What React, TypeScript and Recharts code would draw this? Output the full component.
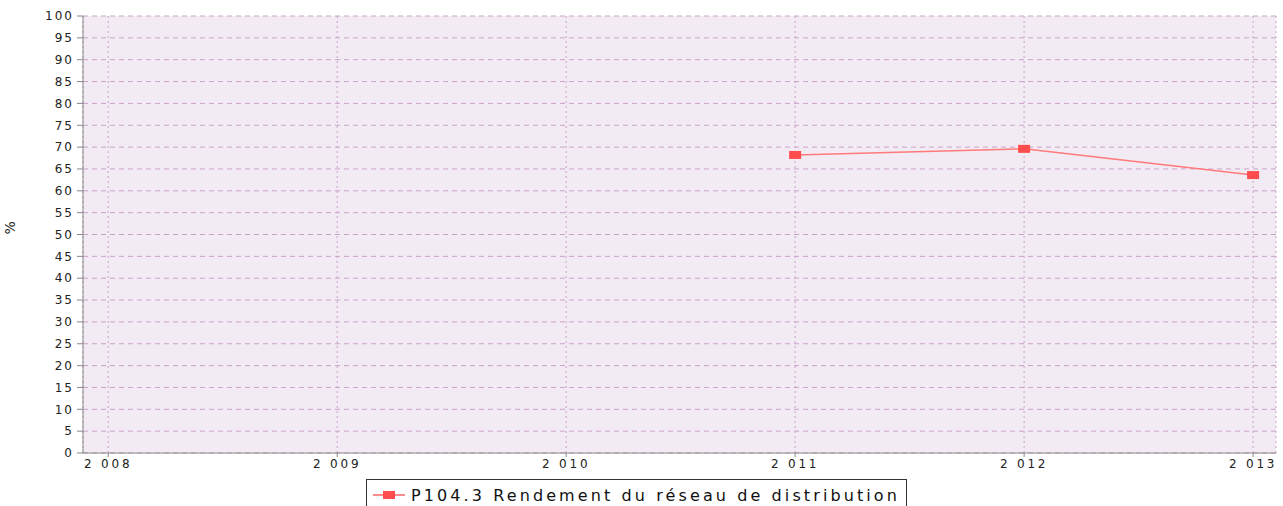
import { LineChart, Line, XAxis, YAxis, CartesianGrid } from "recharts";

const years = [2011, 2012, 2013];
const rendement = [68.2, 69.6, 63.6];
const xTicks = [2008, 2009, 2010, 2011, 2012, 2013];
const yTicks = [0, 5, 10, 15, 20, 25, 30, 35, 40, 45, 50, 55, 60, 65, 70, 75, 80, 85, 90, 95, 100];
const seriesName = "P104.3 Rendement du réseau de distribution";

const data = years.map((year, i) => ({ year, value: rendement[i] }));

const fmtYear = (v: number) => {
  const s = String(v);
  return s.slice(0, 1) + " " + s.slice(1);
};

const tickStyle = {
  fill: "#222",
  fontSize: 12,
  fontFamily: "DejaVu Sans, sans-serif",
  letterSpacing: 2,
};

const SquareDot = (props: any) => {
  const { cx, cy } = props;
  if (cx == null || cy == null) return null;
  return <rect x={cx - 6} y={cy - 4} width={12} height={8} fill="#FF4D4D" />;
};

const LegendBox = () => (
  <div
    style={{
      position: "absolute",
      left: 366,
      top: 479,
      width: 541,
      height: 32,
      border: "1px solid #333",
      background: "#fff",
      display: "flex",
      alignItems: "center",
      paddingLeft: 6,
      fontFamily: "DejaVu Sans, sans-serif",
      fontSize: 16,
      letterSpacing: 3.1,
      color: "#111",
      boxSizing: "border-box",
      whiteSpace: "nowrap",
      overflow: "hidden",
    }}
  >
    <svg width={32} height={12} style={{ marginRight: 6, flex: "none" }}>
      <line x1={0} y1={6} x2={32} y2={6} stroke="#FF6666" strokeWidth={1.5} />
      <rect x={10} y={2} width={12} height={8} fill="#FF4D4D" />
    </svg>
    {seriesName}
  </div>
);

export default function App() {
  return (
    <div style={{ position: "absolute", left: 0, top: 0, width: 1283, height: 506, background: "#fff", overflow: "hidden" }}>
      <LineChart width={1283} height={506} data={data} margin={{ top: 16, right: 7, left: 0, bottom: 27 }}>
        <CartesianGrid
          horizontal
          vertical={false}
          fill="#F3EBF3"
          stroke="#C9A2CA"
          strokeDasharray="5 4"
        />
        <CartesianGrid horizontal={false} vertical stroke="#C9A2CA" strokeDasharray="2 3" />
        <XAxis
          dataKey="year"
          type="number"
          domain={[2007.89, 2013.1]}
          ticks={xTicks}
          tickFormatter={fmtYear}
          tick={{ ...tickStyle, letterSpacing: 2.8 }}
          axisLine={{ stroke: "#888" }}
          tickLine={{ stroke: "#888" }}
          tickSize={4}
          tickMargin={2}
          height={26}
          allowDataOverflow
        />
        <YAxis
          type="number"
          domain={[0, 100]}
          ticks={yTicks}
          tick={tickStyle}
          axisLine={{ stroke: "#888" }}
          tickLine={{ stroke: "#888" }}
          tickSize={6}
          tickMargin={3}
          width={83}
          interval={0}
          label={{
            value: "%",
            angle: -90,
            position: "insideLeft",
            offset: 10,
            style: { fill: "#222", fontSize: 14, fontFamily: "DejaVu Sans, sans-serif" },
          }}
        />
        <Line
          dataKey="value"
          name={seriesName}
          stroke="#FF7A7A"
          strokeWidth={1.5}
          dot={<SquareDot />}
          activeDot={false}
          isAnimationActive={false}
        />
      </LineChart>
      <LegendBox />
    </div>
  );
}
